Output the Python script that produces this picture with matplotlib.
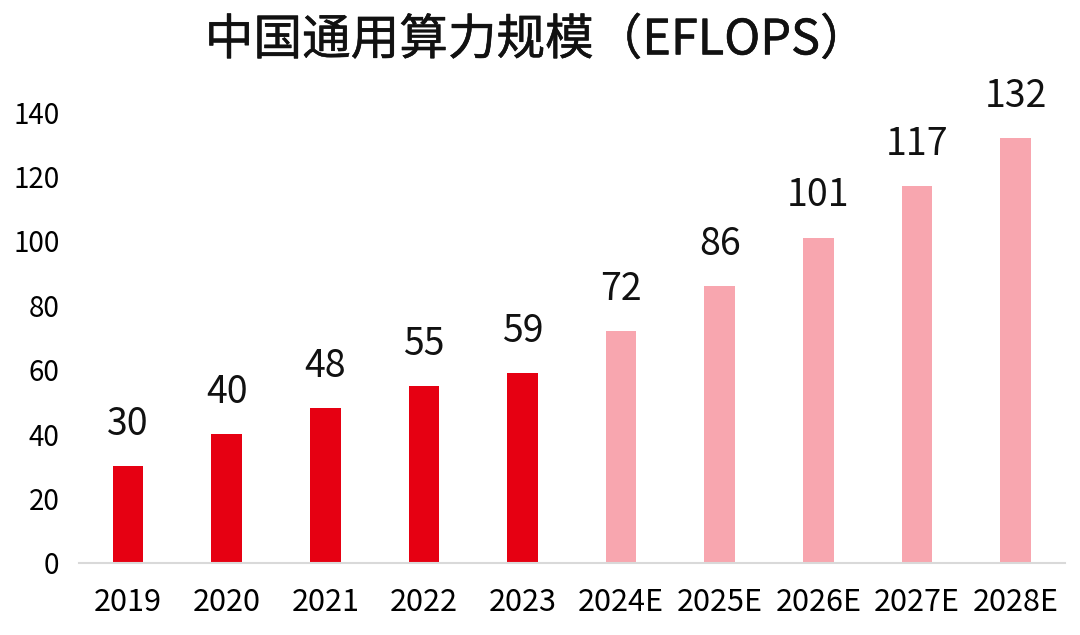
import matplotlib
matplotlib.use("Agg")
import matplotlib.pyplot as plt
import matplotlib.patheffects as pe

plt.rcParams["font.family"] = ["Noto Sans CJK SC", "DejaVu Sans"]

# data
years = ["2019", "2020", "2021", "2022", "2023",
         "2024E", "2025E", "2026E", "2027E", "2028E"]
values = [30, 40, 48, 55, 59, 72, 86, 101, 117, 132]
is_forecast = [False] * 5 + [True] * 5
y_ticks = [0, 20, 40, 60, 80, 100, 120, 140]
title = "中国通用算力规模（EFLOPS）"

ACTUAL = "#E60012"
FORECAST = "#F8A6AF"

fig = plt.figure(figsize=(10.8, 6.35), dpi=100)
ax = fig.add_axes([0.073, 0.1134, 0.913, 0.7102])

colors = [FORECAST if f else ACTUAL for f in is_forecast]
x = range(len(years))
bars = ax.bar(x, values, width=0.31, color=colors, zorder=2)

# value labels above bars
for rect, v in zip(bars, values):
    ax.annotate(str(v),
                xy=(rect.get_x() + rect.get_width() / 2, rect.get_height()),
                xytext=(0, 16), textcoords="offset points",
                ha="center", va="bottom", fontsize=27, color="#111111",
                annotation_clip=False)

ax.set_xlim(-0.5, len(years) - 0.5)
ax.set_ylim(0, 140)
ax.set_yticks(y_ticks)
ax.set_xticks(list(x))
ax.set_xticklabels(years, fontsize=22)
ax.tick_params(axis="y", labelsize=20, length=0, pad=14)
ax.tick_params(axis="x", length=0, pad=17)

for side in ["top", "right", "left"]:
    ax.spines[side].set_visible(False)
ax.spines["bottom"].set_color("#D9D9D9")
ax.spines["bottom"].set_linewidth(1.5)

# title is a touch heavier than regular weight in the source
fig.text(0.497, 0.936, title, ha="center", va="center",
         fontsize=35, color="#111111",
         path_effects=[pe.withStroke(linewidth=0.4, foreground="#111111")])

fig.savefig("out.png", dpi=100)
